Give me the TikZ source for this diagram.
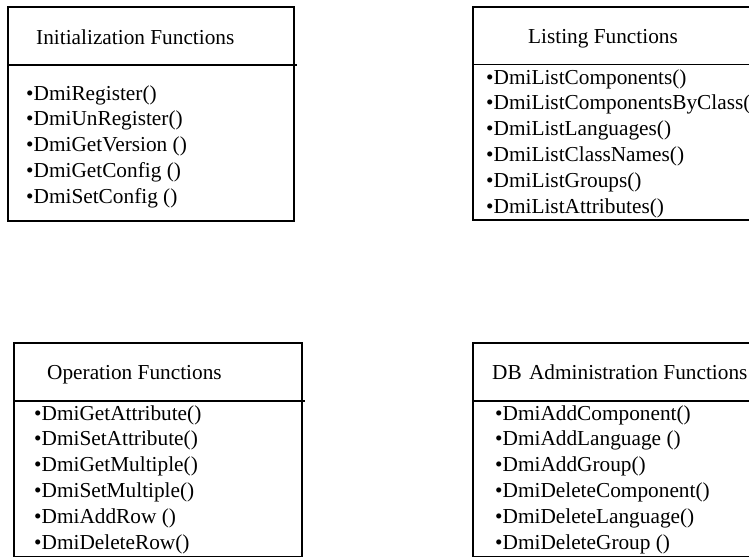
\documentclass[tikz,border=0pt]{standalone}
\usepackage{fontspec}
\setmainfont{Liberation Serif}
\begin{document}
\begin{tikzpicture}[x=1pt,y=-1pt,
  frame/.style={draw=black, line width=1.4pt, inner sep=0pt, outer sep=0pt, anchor=north west},
  rule/.style={draw=black, line width=1.4pt},
  ttl/.style={inner sep=0pt, anchor=base west, font=\fontsize{21.3}{24}\selectfont},
  itm/.style={inner sep=0pt, anchor=base west, font=\fontsize{21.3}{24}\selectfont}]
\useasboundingbox (0,0) rectangle (749,557);
\fill[white] (0,0) rectangle (749,557);
\begin{scope}
\clip (0,0) rectangle (749,557);

% ---- Initialization Functions ----
\node[frame, minimum width=286pt, minimum height=214pt] (init) at (8,7) {};
\coordinate (initL) at (8,65);
\coordinate (initR) at (296.5,65);
\draw[rule] (initL) -- (initR);
\node[ttl] (initT) at (36,44) {Initialization Functions};
\node[itm] (init1) at (26,100)    {•DmiRegister()};
\node[itm] (init2) at (26,125.75) {•DmiUnRegister()};
\node[itm] (init3) at (26,151.5)  {•DmiGetVersion ()};
\node[itm] (init4) at (26,177.25) {•DmiGetConfig ()};
\node[itm] (init5) at (26,203)    {•DmiSetConfig ()};

% ---- Listing Functions ----
\node[frame, minimum width=300pt, minimum height=213pt] (list) at (473,7) {};
\coordinate (listL) at (473,64.5);
\coordinate (listR) at (780,64.5);
\draw[rule] (listL) -- (listR);
\node[ttl, anchor=base] (listT) at (603,43) {Listing Functions};
\node[itm] (list1) at (486,84)    {•DmiListComponents()};
\node[itm] (list2) at (486,109.8) {•DmiListComponentsByClass(};
\node[itm] (list3) at (486,135.6) {•DmiListLanguages()};
\node[itm] (list4) at (486,161.4) {•DmiListClassNames()};
\node[itm] (list5) at (486,187.2) {•DmiListGroups()};
\node[itm] (list6) at (486,213)   {•DmiListAttributes()};

% ---- Operation Functions ----
\node[frame, minimum width=288pt, minimum height=213.5pt] (oper) at (14,343) {};
\coordinate (operL) at (14,401);
\coordinate (operR) at (305,401);
\draw[rule] (operL) -- (operR);
\node[ttl] (operT) at (47,379) {Operation Functions};
\node[itm] (oper1) at (34,420)   {•DmiGetAttribute()};
\node[itm] (oper2) at (34,445.8) {•DmiSetAttribute()};
\node[itm] (oper3) at (34,471.6) {•DmiGetMultiple()};
\node[itm] (oper4) at (34,497.4) {•DmiSetMultiple()};
\node[itm] (oper5) at (34,523.2) {•DmiAddRow ()};
\node[itm] (oper6) at (34,549)   {•DmiDeleteRow()};

% ---- DB Administration Functions ----
\node[frame, minimum width=300pt, minimum height=213.5pt] (dbadm) at (473,343) {};
\coordinate (dbadmL) at (473,401);
\coordinate (dbadmR) at (780,401);
\draw[rule] (dbadmL) -- (dbadmR);
\node[ttl] (dbadmT) at (492,379) {DB\hspace{2pt} Administration Functions};
\node[itm] (dbadm1) at (495,420)   {•DmiAddComponent()};
\node[itm] (dbadm2) at (495,445.8) {•DmiAddLanguage ()};
\node[itm] (dbadm3) at (495,471.6) {•DmiAddGroup()};
\node[itm] (dbadm4) at (495,497.4) {•DmiDeleteComponent()};
\node[itm] (dbadm5) at (495,523.2) {•DmiDeleteLanguage()};
\node[itm] (dbadm6) at (495,549)   {•DmiDeleteGroup ()};
\end{scope}
\end{tikzpicture}
\end{document}
